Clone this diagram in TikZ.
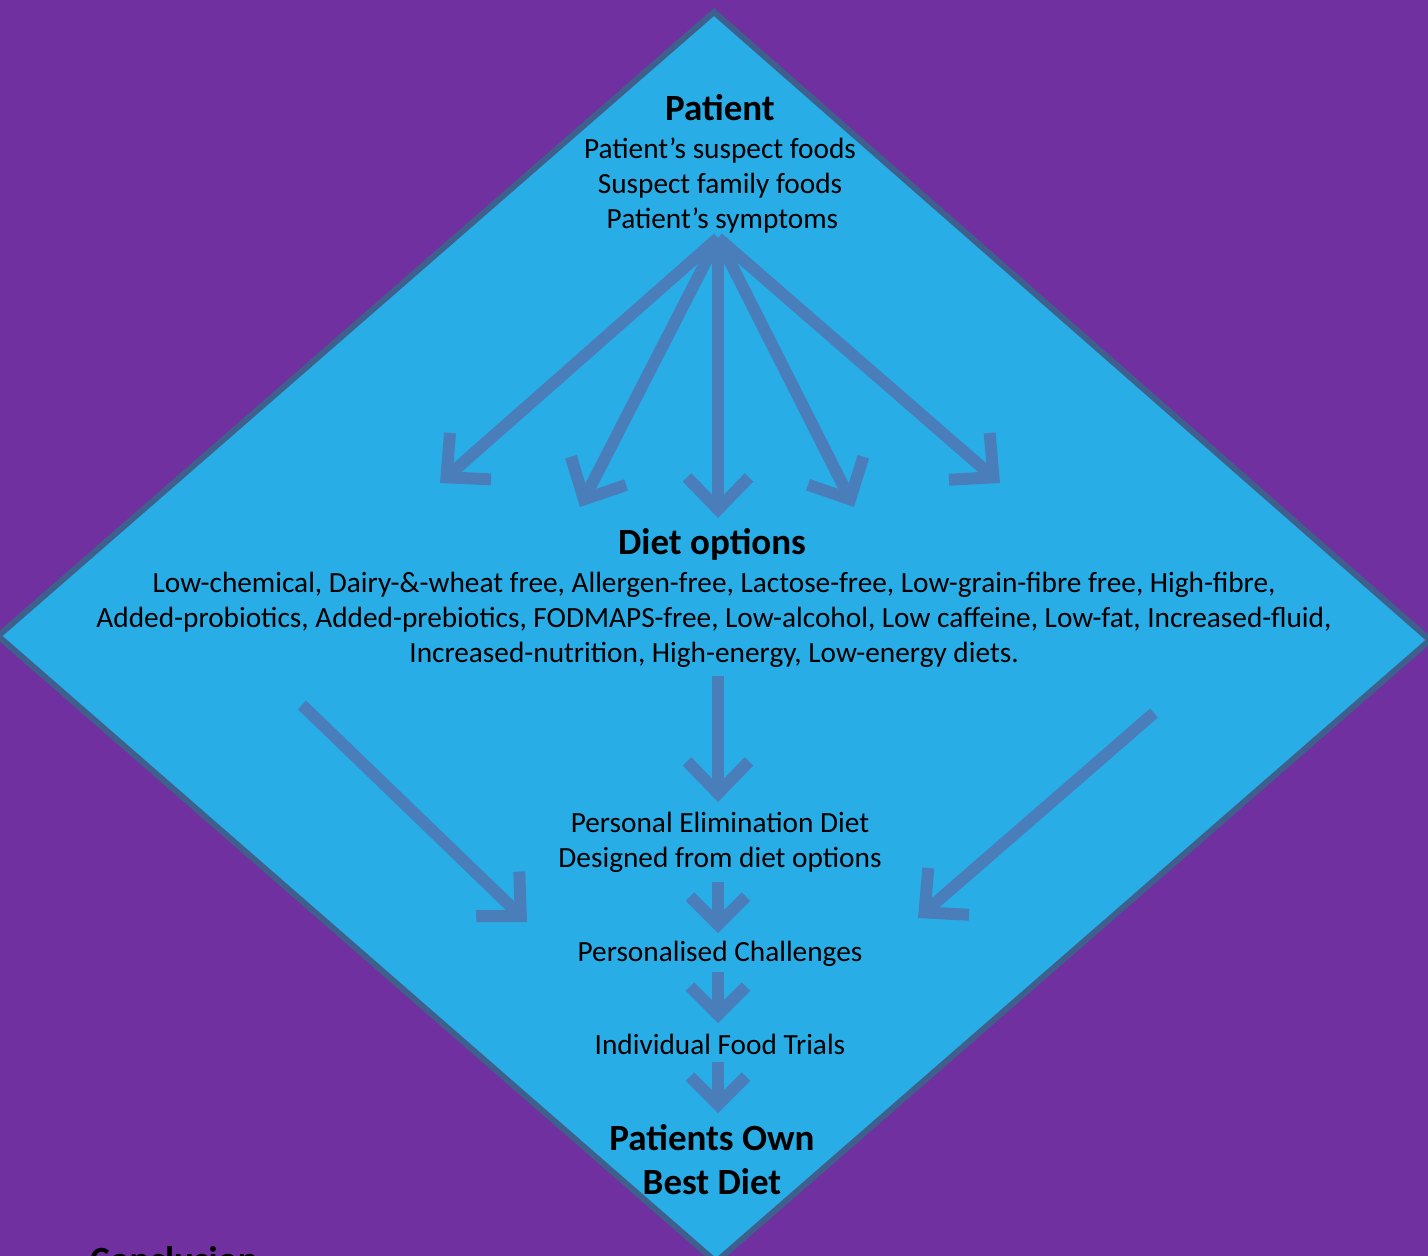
\documentclass[tikz,border=0pt]{standalone}
\usepackage{fontspec}
\setmainfont{Carlito}
\usepackage{xcolor}
\usepackage{tikz}
\usetikzlibrary{arrows.meta, positioning}
\definecolor{bgpurple}{HTML}{7030A0}
\definecolor{diamondfill}{HTML}{29ADE6}
\definecolor{diamondedge}{HTML}{3F5F8C}
\definecolor{arrowblue}{HTML}{4A7EBB}
\tikzset{
  title/.style={inner sep=0pt, align=center, font=\fontsize{37}{44}\selectfont\bfseries},
  body/.style={inner sep=0pt, align=center, font=\fontsize{29.3}{35}\selectfont},
  flow/.style={draw=arrowblue, line width=12pt, -{Straight Barb[length=32pt, width=62pt]}},
  smallflow/.style={draw=arrowblue, line width=12pt, -{Straight Barb[length=28pt, width=56pt]}},
}
\begin{document}
\begin{tikzpicture}[x=1pt, y=-1pt]
  % Background
  \useasboundingbox (0,0) rectangle (1428,1256);
  \fill[bgpurple] (0,0) rectangle (1428,1256);

  % Diamond
  \draw[fill=diamondfill, draw=diamondedge, line width=6pt, line join=miter]
    (714,12) -- (1430,640) -- (716,1262) -- (-2,636) -- cycle;

  % Patient
  \node[title] (patient) at (720,108) {Patient};
  \node[body] (patientinfo) at (720,186) {Patient’s suspect foods\\Suspect family foods\\\,Patient’s symptoms};

  % Fan of arrows
  \coordinate (fan) at (718,238);
  \coordinate (tipA) at (440,483);
  \coordinate (tipB) at (580,507);
  \coordinate (tipC) at (718,518);
  \coordinate (tipD) at (854,507);
  \coordinate (tipE) at (1000,483);
  \foreach \t in {A,B,C,D,E}
    \draw[flow] (fan) -- (tip\t);

  % Diet options
  \node[title] (diet) at (712,544) {Diet options};
  \node[body] (dietlist) at (714,620) {Low-chemical, Dairy-\&-wheat free, Allergen-free, Lactose-free, Low-grain-fibre free, High-fibre,\\Added-probiotics, Added-prebiotics, FODMAPS-free, Low-alcohol, Low caffeine, Low-fat, Increased-fluid,\\Increased-nutrition, High-energy, Low-energy diets.};

  % Side arrows
  \coordinate (leftstart) at (302,705);
  \coordinate (lefttip) at (527,922);
  \coordinate (rightstart) at (1154,713);
  \coordinate (righttip) at (918,918);
  \draw[flow] (leftstart) -- (lefttip);
  \draw[flow] (rightstart) -- (righttip);

  % Steps
  \node[body] (elim) at (720,842) {Personal Elimination Diet\\Designed from diet options};
  \node[body] (challenge) at (720,954) {Personalised Challenges};
  \node[body] (trials) at (720,1044) {Individual Food Trials};
  \node[title] (best) at (712,1160) {Patients Own\\Best Diet};

  \draw[flow] (dietlist.south -| 718,0) ++(0,8) coordinate (dietout) -- (718,802) coordinate (elimin);
  \draw[smallflow] (718,882) -- (718,933);
  \draw[smallflow] (718,972) -- (718,1023);
  \draw[smallflow] (718,1062) -- (718,1113);

  % Conclusion
  \node[title, anchor=base west] (conclusion) at (90,1272) {Conclusion};
\end{tikzpicture}
\end{document}
